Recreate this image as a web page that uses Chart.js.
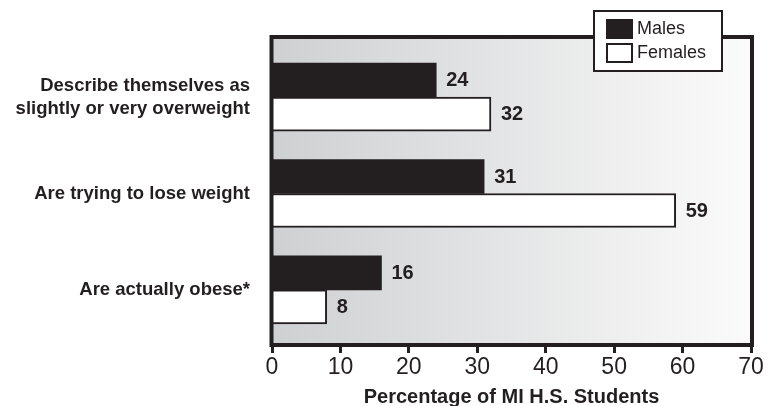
<!DOCTYPE html>
<html>
<head>
<meta charset="utf-8">
<title>Weight perception among Michigan high school students</title>
<script src="https://cdn.jsdelivr.net/npm/chart.js@4/dist/chart.umd.min.js"></script>
<style>
  html, body { margin: 0; padding: 0; background: #ffffff; }
  #wrap { width: 773px; height: 406px; position: relative; }
</style>
</head>
<body>
<div id="wrap"><canvas id="chart" width="773" height="406"></canvas></div>
<script>
// Categories (multi-line labels) and percentages by sex
const categories = [
  ["Describe themselves as", "slightly or very overweight"],
  "Are trying to lose weight",
  "Are actually obese*"
];
const males = [24, 31, 16];
const females = [32, 59, 8];
const seriesNames = ["Males", "Females"];
const xTicks = [0, 10, 20, 30, 40, 50, 60, 70];
const axisTitle = "Percentage of MI H.S. Students";

const INK = "#231f20";
const FONT = "'Liberation Sans', Arial, Helvetica, sans-serif";

// Shaded plot frame: gradient behind the bars, heavy border on top of them
const framePlugin = {
  id: "plotFrame",
  frameRect(chart) {
    const a = chart.chartArea;
    return { l: a.left - 0.5, t: a.top - 12, r: a.right + 1, b: a.bottom + 7 };
  },
  beforeDatasetsDraw(chart) {
    const { ctx } = chart;
    const f = this.frameRect(chart);
    const g = ctx.createLinearGradient(f.l, 0, f.r, 0);
    g.addColorStop(0, "#cfd0d2");
    g.addColorStop(1, "#fbfbfb");
    ctx.save();
    ctx.fillStyle = g;
    ctx.fillRect(f.l, f.t, f.r - f.l, f.b - f.t);
    ctx.restore();
  },
  afterDatasetsDraw(chart) {
    const { ctx } = chart;
    const f = this.frameRect(chart);
    ctx.save();
    ctx.strokeStyle = INK;
    ctx.lineWidth = 4;
    ctx.strokeRect(f.l, f.t, f.r - f.l, f.b - f.t);
    ctx.restore();
  }
};

// Value labels to the right of each bar
const valueLabels = {
  id: "valueLabels",
  afterDatasetsDraw(chart) {
    const { ctx } = chart;
    ctx.save();
    ctx.font = "bold 20px " + FONT;
    ctx.fillStyle = INK;
    ctx.textAlign = "left";
    ctx.textBaseline = "middle";
    chart.data.datasets.forEach((ds, di) => {
      const meta = chart.getDatasetMeta(di);
      meta.data.forEach((bar, i) => {
        ctx.fillText(String(ds.data[i]), bar.x + 10, bar.y + 0.5);
      });
    });
    ctx.restore();
  }
};

// Boxed legend in the upper right, overlapping the frame edge
const boxLegend = {
  id: "boxLegend",
  afterDraw(chart) {
    const { ctx } = chart;
    const a = chart.chartArea;
    const bx = a.right - 157, by = 11, bw = 128, bh = 60;
    ctx.save();
    ctx.fillStyle = "#ffffff";
    ctx.fillRect(bx, by, bw, bh);
    ctx.strokeStyle = INK;
    ctx.lineWidth = 2;
    ctx.strokeRect(bx, by, bw, bh);
    ctx.font = "18px " + FONT;
    ctx.textAlign = "left";
    ctx.textBaseline = "middle";
    chart.data.datasets.forEach((ds, i) => {
      const sy = by + 9 + i * 24;
      ctx.fillStyle = ds.backgroundColor;
      ctx.fillRect(bx + 13, sy, 25, 18);
      ctx.lineWidth = 2;
      ctx.strokeStyle = INK;
      ctx.strokeRect(bx + 13, sy, 25, 18);
      ctx.fillStyle = INK;
      ctx.fillText(ds.label, bx + 43, sy + 9.5);
    });
    ctx.restore();
  }
};

new Chart(document.getElementById("chart"), {
  type: "bar",
  data: {
    labels: categories,
    datasets: [
      {
        label: seriesNames[0],
        data: males,
        backgroundColor: INK,
        borderColor: INK,
        borderWidth: 0,
        barThickness: 34
      },
      {
        label: seriesNames[1],
        data: females,
        backgroundColor: "#ffffff",
        borderColor: INK,
        borderWidth: 2,
        barThickness: 34
      }
    ]
  },
  options: {
    indexAxis: "y",
    responsive: false,
    animation: false,
    devicePixelRatio: 1,
    layout: { padding: { top: 49, right: 22, left: 0, bottom: 0 } },
    plugins: {
      legend: { display: false },
      tooltip: { enabled: false }
    },
    scales: {
      x: {
        type: "linear",
        min: xTicks[0],
        max: xTicks[xTicks.length - 1],
        afterBuildTicks(scale) {
          scale.ticks = xTicks.map(v => ({ value: v }));
        },
        afterFit(scale) { scale.height = 68; },
        border: { display: false },
        grid: {
          drawOnChartArea: false,
          drawTicks: true,
          tickLength: 15,
          tickWidth: 3,
          tickColor: INK,
          color: INK
        },
        ticks: {
          padding: 1,
          color: INK,
          font: { family: FONT, size: 23 }
        },
        title: {
          display: true,
          text: axisTitle,
          color: INK,
          font: { family: FONT, size: 20, weight: "bold", lineHeight: 1 },
          padding: { top: 0, bottom: -1 }
        }
      },
      y: {
        type: "category",
        afterFit(scale) { scale.width = 272; },
        border: { display: false },
        grid: { display: false, drawTicks: false },
        ticks: {
          padding: 22,
          color: INK,
          font: { family: FONT, size: 18.5, weight: "bold", lineHeight: 1.27 }
        }
      }
    }
  },
  plugins: [framePlugin, valueLabels, boxLegend]
});
</script>
</body>
</html>
